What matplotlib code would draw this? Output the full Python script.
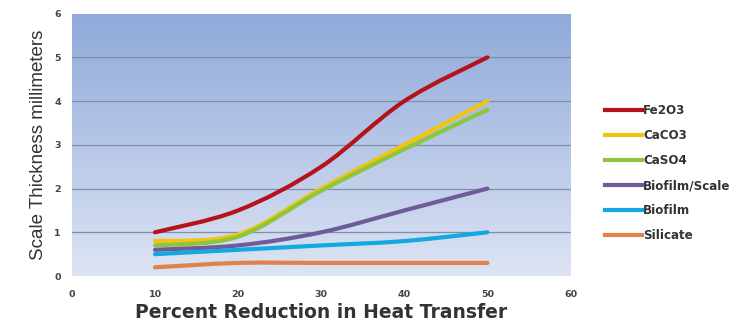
import numpy as np
import matplotlib
matplotlib.use("Agg")
import matplotlib.pyplot as plt
from matplotlib.path import Path
from matplotlib.patches import PathPatch
from matplotlib.lines import Line2D
from matplotlib.colors import LinearSegmentedColormap

plt.rcParams['font.family'] = ['Liberation Sans', 'DejaVu Sans']

# data
pct = [10, 20, 30, 40, 50]
fe2o3 = [1.0, 1.5, 2.5, 4.0, 5.0]
caco3 = [0.8, 0.95, 2.0, 3.0, 4.0]
caso4 = [0.7, 0.9, 1.95, 2.9, 3.8]
biofilm_scale = [0.6, 0.7, 1.0, 1.5, 2.0]
biofilm = [0.5, 0.6, 0.7, 0.8, 1.0]
silicate = [0.2, 0.3, 0.3, 0.3, 0.3]

names = ['Fe2O3', 'CaCO3', 'CaSO4', 'Biofilm/Scale', 'Biofilm', 'Silicate']
series = [fe2o3, caco3, caso4, biofilm_scale, biofilm, silicate]
colors = ['#B5121B', '#F2C40F', '#8CC63F', '#6F5A9A', '#12A9E0', '#E0824A']


def smooth_path(x, y):
    """Excel-style smoothed line: cubic bezier through the points."""
    x = np.asarray(x, float)
    y = np.asarray(y, float)
    pts = np.column_stack([x, y])
    verts = [pts[0]]
    codes = [Path.MOVETO]
    n = len(pts)
    for i in range(n - 1):
        p0 = pts[i - 1] if i > 0 else pts[i]
        p1 = pts[i]
        p2 = pts[i + 1]
        p3 = pts[i + 2] if i + 2 < n else pts[i + 1]
        c1 = p1 + (p2 - p0) / 6.0
        c2 = p2 - (p3 - p1) / 6.0
        verts += [c1, c2, p2]
        codes += [Path.CURVE4] * 3
    return Path(verts, codes)


fig = plt.figure(figsize=(7.41, 3.31), dpi=100)
ax = fig.add_axes([0.097, 0.166, 0.673, 0.793])

# gradient background
grad = np.linspace(0, 1, 256).reshape(-1, 1)
cmap = LinearSegmentedColormap.from_list('bg', ['#DDE4F3', '#8FA9DA'])
ax.imshow(grad, aspect='auto', cmap=cmap, origin='lower',
          extent=[0, 60, 0, 6], zorder=0)

ax.set_xlim(0, 60)
ax.set_ylim(0, 6)
for yv in range(1, 6):
    ax.axhline(yv, color='#7F8FA8', lw=0.9, zorder=1)

for vals, c in zip(series, colors):
    patch = PathPatch(smooth_path(pct, vals), facecolor='none', edgecolor=c,
                      lw=3.0, capstyle='round', zorder=3)
    ax.add_patch(patch)

for s in ax.spines.values():
    s.set_visible(False)

ax.set_xticks(range(0, 61, 10))
ax.set_yticks(range(0, 7))
ax.tick_params(length=0, labelsize=6.8, labelcolor='#444444', pad=10)
for lab in ax.get_xticklabels() + ax.get_yticklabels():
    lab.set_fontweight('bold')
    lab.set_family('DejaVu Sans')
ax.tick_params(axis='y', pad=8)

ax.set_xlabel('Percent Reduction in Heat Transfer', fontsize=13.5,
              fontweight='bold', family='DejaVu Sans', color='#333333',
              labelpad=3)
ax.set_ylabel('Scale Thickness millimeters', fontsize=13.5,
              color='#333333', labelpad=5)

handles = [Line2D([], [], color=c, lw=3) for c in colors]
leg = fig.legend(handles, names, loc='center left',
                 bbox_to_anchor=(0.808, 0.477), frameon=False, borderpad=0,
                 prop={'weight': 'bold', 'size': 8.6, 'family': 'DejaVu Sans'},
                 handlelength=3.1, handletextpad=0.1, labelspacing=1.0)
for t in leg.get_texts():
    t.set_color('#333333')

fig.savefig('out.png', dpi=100)
